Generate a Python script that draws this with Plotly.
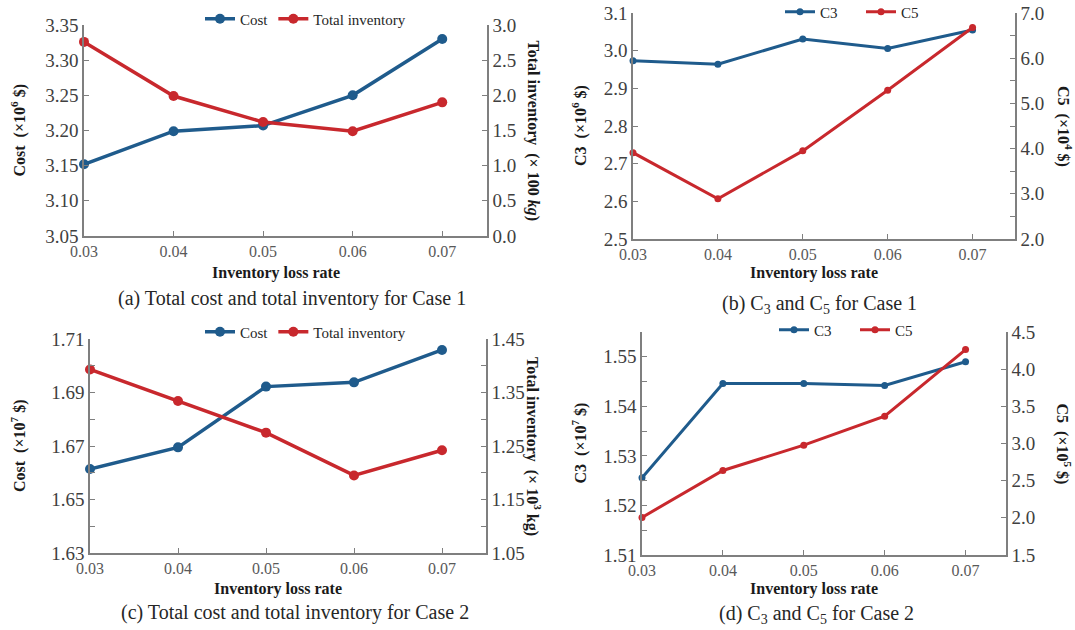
import plotly.graph_objects as go

# ---------------- data ----------------
loss_rate = [0.03, 0.04, 0.05, 0.06, 0.07]
x_ticks = ["0.03", "0.04", "0.05", "0.06", "0.07"]

# (a) Case 1: total cost (x10^6 $) and total inventory (x100 kg)
a_cost = [3.152, 3.199, 3.207, 3.250, 3.330]
a_inv = [2.76, 1.99, 1.62, 1.49, 1.90]
# (b) Case 1: C3 (x10^6 $) and C5 (x10^4 $)
b_c3 = [2.973, 2.964, 3.031, 3.006, 3.055]
b_c5 = [3.91, 2.89, 3.95, 5.29, 6.68]
# (c) Case 2: total cost (x10^7 $) and total inventory (x10^3 kg)
c_cost = [1.6614, 1.6695, 1.6922, 1.6938, 1.7059]
c_inv = [1.393, 1.334, 1.275, 1.195, 1.242]
# (d) Case 2: C3 (x10^7 $) and C5 (x10^5 $)
d_c3 = [1.5256, 1.5446, 1.5446, 1.5442, 1.5490]
d_c5 = [2.006, 2.637, 2.978, 3.367, 4.263]

captions = [
    "(a) Total cost and total inventory for Case 1",
    "(b) C<sub>3</sub> and C<sub>5</sub> for Case 1",
    "(c) Total cost and total inventory for Case 2",
    "(d) C<sub>3</sub> and C<sub>5</sub> for Case 2",
]

# ---------------- style ----------------
W, H = 1075, 630
BLUE = "#1F5B8C"
RED = "#C8282D"
AXC = "#7F7F7F"
FONT = "Liberation Serif"
TICKC = "#404040"


def px(x):
    return x / W


def py(y):
    return 1 - y / H


# panel geometry in pixels: left, right, top, bottom
panels = [
    dict(l=84, r=487, t=25, b=236),
    dict(l=633, r=1015, t=13, b=239),
    dict(l=90, r=486, t=339, b=553),
    dict(l=642, r=1006, t=332, b=555),
]

fig = go.Figure()

series = [
    (a_cost, a_inv, "Cost", "Total inventory", 10, 3.5),
    (b_c3, b_c5, "C3", "C5", 7, 3),
    (c_cost, c_inv, "Cost", "Total inventory", 10, 3.5),
    (d_c3, d_c5, "C3", "C5", 7, 3),
]

leg_names = ["legend", "legend2", "legend3", "legend4"]

for i, (left, right, n1, n2, ms, lw) in enumerate(series):
    xa = "x" if i == 0 else f"x{i+1}"
    ya_l = f"y{2*i+1}" if i > 0 else "y"
    ya_r = f"y{2*i+2}"
    fig.add_trace(go.Scatter(
        x=loss_rate, y=left, name=n1, mode="lines+markers",
        line=dict(color=BLUE, width=lw), marker=dict(color=BLUE, size=ms),
        xaxis=xa, yaxis=ya_l, cliponaxis=False, legend=leg_names[i]))
    fig.add_trace(go.Scatter(
        x=loss_rate, y=right, name=n2, mode="lines+markers",
        line=dict(color=RED, width=lw), marker=dict(color=RED, size=ms),
        xaxis=xa, yaxis=ya_r, cliponaxis=False, legend=leg_names[i]))

yspecs = [
    # left range, dtick, minor, fmt ; right range, dtick, minor, fmt
    ([3.05, 3.35], 0.05, None, ".2f", [0, 3.0], 0.5, None, ".1f"),
    ([2.5, 3.1], 0.1, None, ".1f", [2.0, 7.0], 1.0, 0.5, ".1f"),
    ([1.63, 1.71], 0.02, 0.01, ".2f", [1.05, 1.45], 0.1, 0.05, ".2f"),
    ([1.51, 1.555], 0.01, 0.005, ".2f", [1.5, 4.5], 0.5, None, ".1f"),
]

layout = dict(
    width=W, height=H,
    margin=dict(l=0, r=0, t=0, b=0, autoexpand=False),
    paper_bgcolor="white", plot_bgcolor="white",
    font=dict(family=FONT, color=TICKC),
    showlegend=True,
)

for i, p in enumerate(panels):
    xk = "xaxis" if i == 0 else f"xaxis{i+1}"
    xa = "x" if i == 0 else f"x{i+1}"
    ylk = "yaxis" if i == 0 else f"yaxis{2*i+1}"
    yrk = f"yaxis{2*i+2}"
    yl_name = "y" if i == 0 else f"y{2*i+1}"
    lr, ld, lm, lf, rr, rd, rm, rf = yspecs[i]
    dom_y = [py(p["b"]), py(p["t"])]
    layout[xk] = dict(
        domain=[px(p["l"]), px(p["r"])], anchor=yl_name,
        range=[0.03, 0.075], tickvals=loss_rate, ticktext=x_ticks,
        showline=True, linecolor=AXC, linewidth=1.5,
        ticks="inside", ticklen=5, tickcolor=AXC, tickwidth=1.2,
        showgrid=False, zeroline=False, automargin=False,
        tickfont=dict(family=FONT, size=16, color="#595959"),
    )
    yl = dict(
        domain=dom_y, anchor=xa, range=lr, dtick=ld, tick0=lr[0],
        tickformat=lf, showline=True, linecolor=AXC, linewidth=1.5,
        ticks="inside", ticklen=5, tickcolor=AXC, tickwidth=1.2,
        showgrid=False, zeroline=False, automargin=False,
        tickfont=dict(family=FONT, size=19, color=TICKC),
    )
    if lm:
        yl["minor"] = dict(dtick=lm, tick0=lr[0], ticks="inside", ticklen=5,
                           tickcolor=AXC, tickwidth=1.2, showgrid=False)
    layout[ylk] = yl
    yr = dict(
        domain=dom_y, anchor=xa, overlaying=yl_name, side="right",
        range=rr, dtick=rd, tick0=rr[0], tickformat=rf,
        showline=True, linecolor=AXC, linewidth=1.5,
        ticks="inside", ticklen=5, tickcolor=AXC, tickwidth=1.2,
        showgrid=False, zeroline=False, automargin=False,
        tickfont=dict(family=FONT, size=19, color=TICKC),
    )
    if rm:
        yr["minor"] = dict(dtick=rm, tick0=rr[0], ticks="inside", ticklen=5,
                           tickcolor=AXC, tickwidth=1.2, showgrid=False)
    layout[yrk] = yr

# legends (x of box left edge, y of centre, entry width or None)
leg_pos = [(200, 19, None), (780, 12, 36), (200, 332, None), (774, 330, 36)]
for i, (lx, ly, ew) in enumerate(leg_pos):
    leg = dict(
        x=px(lx), y=py(ly), xanchor="left", yanchor="middle",
        orientation="h", bgcolor="rgba(0,0,0,0)", borderwidth=0,
        font=dict(family=FONT, size=15, color="#262626"),
        tracegroupgap=0,
    )
    if ew:
        leg["entrywidth"] = ew
        leg["entrywidthmode"] = "pixels"
    layout[leg_names[i]] = leg

fig.update_layout(**layout)

# axis titles, captions
left_titles = [
    "<b>Cost\u00a0\u00a0(×10<sup>6</sup> $)</b>",
    "<b>C3\u00a0\u00a0(×10<sup>6</sup> $)</b>",
    "<b>Cost\u00a0\u00a0(×10<sup>7</sup> $)</b>",
    "<b>C3\u00a0\u00a0(×10<sup>7</sup> $)</b>",
]
right_titles = [
    "<b>Total inventory\u00a0\u00a0(× 100 <i>kg</i>)</b>",
    "<b>C5\u00a0\u00a0(×10<sup>4</sup> $)</b>",
    "<b>Total inventory\u00a0\u00a0(× 10<sup>3</sup> kg)</b>",
    "<b>C5\u00a0\u00a0(×10<sup>5</sup> $)</b>",
]
left_x = [19, 580, 18, 580]
right_x = [533, 1064, 534, 1063]
xt_y = [273, 273, 589, 589]
cap_y = [298, 304, 612, 614]
cap_dx = [6, -5, 7, -8]


def ann(x, y, text, size, color, angle=0):
    fig.add_annotation(x=px(x), y=py(y), xref="paper", yref="paper",
                       xanchor="center", yanchor="middle",
                       text=text, textangle=angle, showarrow=False,
                       font=dict(family=FONT, size=size, color=color))


for i, p in enumerate(panels):
    ym = (p["t"] + p["b"]) / 2
    xm = (p["l"] + p["r"]) / 2
    ann(left_x[i], ym, left_titles[i], 16, "#1a1a1a", -90)
    ann(right_x[i], ym, right_titles[i], 16, "#1a1a1a", 90)
    ann(xm - 10, xt_y[i], "<b>Inventory loss rate</b>", 16, "#1a1a1a")
    ann(xm + cap_dx[i], cap_y[i], captions[i], 20, "#262626")

fig.write_html("out.html",
               config={"displayModeBar": False},
               post_script="document.body.style.margin='0';"
                           "document.body.style.overflow='hidden';")
